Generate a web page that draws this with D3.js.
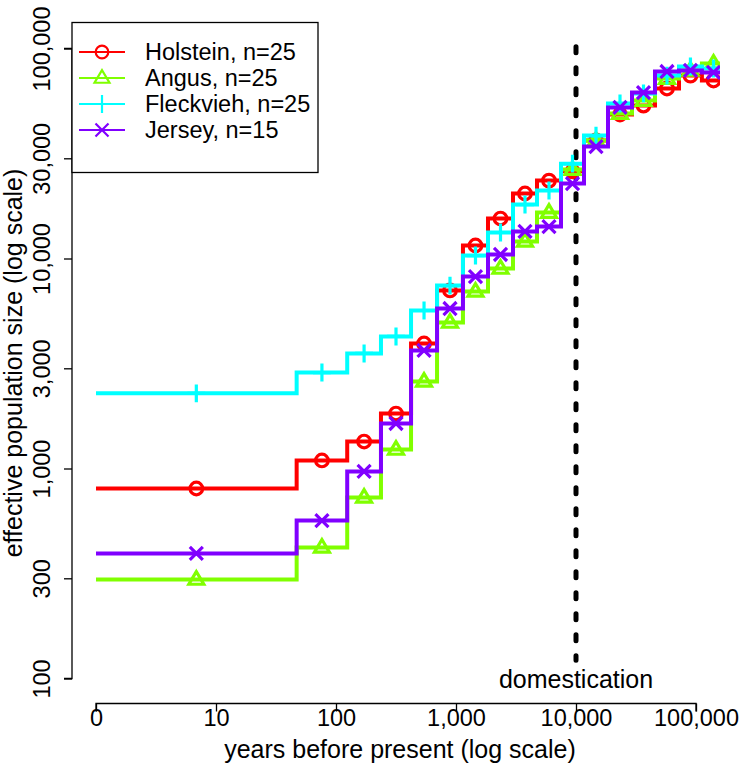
<!DOCTYPE html>
<html>
<head>
<meta charset="utf-8">
<script src="https://cdn.jsdelivr.net/npm/d3@7"></script>
<style>
  html, body { margin: 0; padding: 0; background: #fff; }
  svg { display: block; }
  text { font-family: "Liberation Sans", Arial, Helvetica, sans-serif; fill: #000; }
</style>
</head>
<body>
<svg id="chart" width="746" height="781"></svg>
<script>
// ---- data ----
const timeBreaks = [0, 47, 124, 237, 422, 695, 1143, 1848, 2985, 4732, 7499, 11660, 18480, 29290, 45540, 72150, 112000, 175000];
const holstein  = [803, 1092, 1344, 1827, 3938, 7046, 11530, 15500, 20400, 23500, 26000, 36500, 48500, 53500, 64500, 74300, 70400];
const angus     = [296, 421, 728, 1231, 2596, 4955, 6966, 8960, 12050, 16550, 26500, 36500, 49000, 56500, 71900, 78600, 84900];
const fleckvieh = [2280, 2864, 3530, 4253, 5653, 7432, 10330, 13300, 18070, 21080, 28300, 38500, 54700, 61100, 74300, 82100, 80300];
const jersey    = [394, 565, 968, 1638, 3648, 5779, 8206, 10450, 13450, 14200, 22750, 34100, 52400, 61700, 77700, 78600, 76900];
const seriesNames = ["Holstein, n=25", "Angus, n=25", "Fleckvieh, n=25", "Jersey, n=15"];
const seriesColors = ["#FF0000", "#80FF00", "#00FFFF", "#8000FF"];
const seriesSymbols = ["circle", "triangle", "plus", "cross"];
const xTicks = [0, 10, 100, 1000, 10000, 100000];
const xTickLabels = ["0", "10", "100", "1,000", "10,000", "100,000"];
const yTicks = [100, 300, 1000, 3000, 10000, 30000, 100000];
const yTickLabels = ["100", "300", "1,000", "3,000", "10,000", "30,000", "100,000"];
const domesticationYear = 10000;

const series = [holstein, angus, fleckvieh, jersey];

// ---- layout ----
const svg = d3.select("#chart");
const plot = { left: 72, right: 720, top: 22.5, bottom: 703.5 };
const x = d3.scaleLog().domain([1, 100000]).range([96, 696]);
const xv = v => x(Math.max(v, 1));
const y = d3.scaleLog().domain([100, 100000]).range([678.5, 48.5]);
const FONT = "Liberation Sans, Arial, sans-serif";

svg.append("defs").append("clipPath").attr("id", "clip")
  .append("rect").attr("x", plot.left).attr("y", plot.top)
  .attr("width", plot.right - plot.left).attr("height", plot.bottom - plot.top);

// domestication line
svg.append("line")
  .attr("x1", x(domesticationYear)).attr("x2", x(domesticationYear))
  .attr("y1", y(102000)).attr("y2", y(122))
  .attr("stroke", "#000").attr("stroke-width", 5)
  .attr("stroke-linecap", "round").attr("stroke-dasharray", "6,15");

svg.append("text").attr("x", x(domesticationYear)).attr("y", 688)
  .attr("text-anchor", "middle").attr("font-size", 25).text("domestication");

// symbols
function drawSymbol(g, type, cx, cy, color, sw, s) {
  if (type === "circle") {
    g.append("circle").attr("cx", cx).attr("cy", cy).attr("r", 6 * s)
      .attr("fill", "none").attr("stroke", color).attr("stroke-width", sw);
  } else if (type === "triangle") {
    const r = 7.5 * s;
    const pts = [[cx, cy - r], [cx - r * 0.95, cy + r * 0.6], [cx + r * 0.95, cy + r * 0.6]];
    g.append("polygon").attr("points", pts.map(p => p.join(",")).join(" "))
      .attr("fill", "none").attr("stroke", color).attr("stroke-width", sw);
  } else if (type === "plus") {
    const r = 8.5 * s;
    g.append("path").attr("d", `M${cx - r},${cy}H${cx + r}M${cx},${cy - r}V${cy + r}`)
      .attr("stroke", color).attr("stroke-width", sw).attr("fill", "none");
  } else {
    const r = 6.2 * s;
    g.append("path").attr("d", `M${cx - r},${cy - r}L${cx + r},${cy + r}M${cx - r},${cy + r}L${cx + r},${cy - r}`)
      .attr("stroke", color).attr("stroke-width", sw).attr("fill", "none");
  }
}

// step lines
const lineG = svg.append("g").attr("clip-path", "url(#clip)");
series.forEach((vals, si) => {
  const pts = [];
  vals.forEach((v, i) => {
    pts.push([xv(timeBreaks[i]), y(v)]);
    pts.push([xv(timeBreaks[i + 1]), y(v)]);
  });
  const line = d3.line();
  lineG.append("path").attr("d", line(pts))
    .attr("fill", "none").attr("stroke", seriesColors[si]).attr("stroke-width", 4)
    .attr("stroke-linejoin", "miter");
  vals.forEach((v, i) => {
    const a = Math.max(timeBreaks[i], 1), b = timeBreaks[i + 1];
    const mid = Math.sqrt(a * b);
    drawSymbol(lineG, seriesSymbols[si], x(mid), y(v), seriesColors[si], 3.2, 1.05);
  });
});

// axes
const xAxis = d3.axisBottom(x).tickValues(xTicks.map(v => Math.max(v, 1)))
  .tickFormat((d, i) => xTickLabels[i]).tickSize(8).tickPadding(4);
const gx = svg.append("g").attr("transform", `translate(0,${plot.bottom})`).call(xAxis);
gx.select(".domain").attr("d", `M${x(1)},8V0H${x(100000)}V8`).attr("stroke", "#000").attr("stroke-width", 1.3);
gx.selectAll("line").attr("stroke", "#000").attr("stroke-width", 1.3);
gx.selectAll("text").attr("font-size", 23.5).attr("font-family", FONT).attr("y", 14.5).attr("dy", "0.35em");

const yAxis = d3.axisLeft(y).tickValues(yTicks).tickFormat((d, i) => yTickLabels[i]).tickSize(8);
const gy = svg.append("g").attr("transform", `translate(${plot.left},0)`).call(yAxis);
gy.select(".domain").attr("d", `M-8,${y(100)}H0V${y(100000)}H-8`).attr("stroke", "#000").attr("stroke-width", 1.3);
gy.selectAll("line").attr("stroke", "#000").attr("stroke-width", 1.3);
gy.selectAll(".tick text").attr("font-size", 23.5).attr("font-family", FONT)
  .attr("text-anchor", "middle").attr("x", null).attr("y", 0)
  .attr("transform", `translate(-30,0) rotate(-90)`).attr("dy", "0.35em");

// axis titles
svg.append("text").attr("x", 400).attr("y", 758).attr("text-anchor", "middle")
  .attr("font-size", 25).text("years before present (log scale)");
svg.append("text").attr("transform", `translate(22,${(plot.top + plot.bottom) / 2}) rotate(-90)`)
  .attr("text-anchor", "middle").attr("font-size", 25).text("effective population size (log scale)");

// legend
const leg = svg.append("g");
const legBox = { x: plot.left, y: plot.top, w: 246, h: 150 };
leg.append("rect").attr("x", legBox.x).attr("y", legBox.y).attr("width", legBox.w).attr("height", legBox.h)
  .attr("fill", "#fff").attr("stroke", "#000").attr("stroke-width", 1.3);
seriesNames.forEach((name, i) => {
  const ry = 52 + i * 26;
  leg.append("line").attr("x1", 79).attr("x2", 125).attr("y1", ry).attr("y2", ry)
    .attr("stroke", seriesColors[i]).attr("stroke-width", 2.2);
  drawSymbol(leg, seriesSymbols[i], 102, ry, seriesColors[i], 2.2, 1.05);
  leg.append("text").attr("x", 145).attr("y", ry).attr("dy", "0.36em")
    .attr("font-size", 23.5).text(name);
});
</script>
</body>
</html>
